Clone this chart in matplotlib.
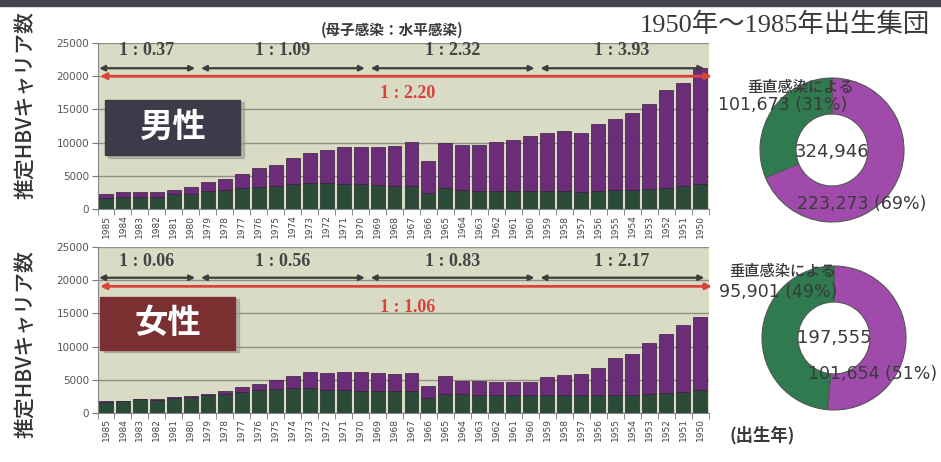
import matplotlib
matplotlib.use("Agg")
import matplotlib.pyplot as plt
from matplotlib.patches import Rectangle
import numpy as np

plt.rcParams['font.family'] = ['Noto Sans CJK JP', 'DejaVu Sans']

# 出生年 (1985 -> 1950)
years = [1985, 1984, 1983, 1982, 1981, 1980, 1979, 1978, 1977, 1976,
         1975, 1974, 1973, 1972, 1971, 1970, 1969, 1968, 1967, 1966,
         1965, 1964, 1963, 1962, 1961, 1960, 1959, 1958, 1957, 1956,
         1955, 1954, 1953, 1952, 1951, 1950]

# 男性: 母子感染(垂直) / 水平感染
male_vertical = [1600, 1800, 1800, 1800, 2200, 2300, 2700, 2900, 3100, 3300,
                 3500, 3700, 3900, 3900, 3700, 3700, 3600, 3500, 3400, 2400,
                 3200, 2800, 2700, 2700, 2700, 2700, 2700, 2700, 2600, 2700,
                 2900, 2900, 3000, 3200, 3400, 3700]
male_horizontal = [700, 700, 700, 700, 700, 1000, 1300, 1600, 2200, 2800,
                   3200, 4000, 4600, 5000, 5600, 5600, 5700, 6000, 6700, 4800,
                   6700, 6900, 7000, 7400, 7700, 8300, 8700, 9100, 8900, 10100,
                   10700, 11500, 12800, 14700, 15600, 17500]

# 女性
female_vertical = [1600, 1700, 2000, 1900, 2200, 2400, 2600, 2900, 3200, 3400,
                   3600, 3700, 3800, 3500, 3400, 3300, 3300, 3300, 3300, 2200,
                   2900, 2900, 2700, 2600, 2600, 2600, 2600, 2600, 2600, 2700,
                   2700, 2700, 2900, 3000, 3200, 3500]
female_horizontal = [100, 100, 100, 100, 100, 100, 300, 400, 700, 900,
                     1400, 1900, 2400, 2500, 2700, 2800, 2700, 2500, 2700, 1800,
                     2700, 1900, 2100, 2100, 2100, 2100, 2800, 3100, 3300, 4000,
                     5600, 6200, 7600, 8900, 10100, 11000]

# 期間区分 (index start, end) と比
groups = [(0, 5), (6, 15), (16, 25), (26, 35)]
male_ratios = ['1 : 0.37', '1 : 1.09', '1 : 2.32', '1 : 3.93']
female_ratios = ['1 : 0.06', '1 : 0.56', '1 : 0.83', '1 : 2.17']
male_total_ratio = '1 : 2.20'
female_total_ratio = '1 : 1.06'

# 円グラフ (水平, 垂直)
male_pie = [223273, 101673]
female_pie = [101654, 95901]
male_pie_labels = ['101,673 (31%)', '324,946', '223,273 (69%)']
female_pie_labels = ['95,901 (49%)', '197,555', '101,654 (51%)']

GREEN = '#2b4a3a'
PURPLE = '#6b2d78'
PIE_GREEN = '#2f7a4f'
PIE_PURPLE = '#a04aab'
BG = '#dadbc5'
TXT = '#3a3a3a'
RED = '#d8443c'

W, H = 941, 462
fig = plt.figure(figsize=(W / 100, H / 100), dpi=100)
fig.patches.append(Rectangle((0, 1 - 6 / H), 1, 6 / H, transform=fig.transFigure,
                             color='#44444f', zorder=0))


def draw_bars(ax, vert, horiz, ratios, total_ratio, arrow_y, label_y, red_y, red_label_y,
              box_text, box_color, box_ext):
    x = np.arange(len(years))
    ax.set_facecolor(BG)
    ax.bar(x, vert, width=0.82, color=GREEN, edgecolor='#1c2b24', linewidth=0.5, zorder=3)
    ax.bar(x, horiz, bottom=vert, width=0.82, color=PURPLE, edgecolor='#3a1a40',
           linewidth=0.5, zorder=3)
    ax.set_xlim(-0.5, len(years) - 0.5)
    ax.set_ylim(0, 25000)
    ax.set_yticks([0, 5000, 10000, 15000, 20000, 25000])
    ax.yaxis.grid(True, color='#8f8f86', linewidth=1, zorder=1)
    ax.set_axisbelow(True)
    ax.set_xticks(x)
    ax.set_xticklabels([str(y) for y in years], rotation=90, fontsize=6.5, color='#444444',
                       family='DejaVu Sans')
    ax.set_xticks(np.arange(-0.5, len(years), 1), minor=True)
    ax.tick_params(axis='x', which='major', length=0, pad=4)
    ax.tick_params(axis='x', which='minor', length=4, color='#777777')
    ax.tick_params(axis='y', length=4, color='#777777', labelsize=7.5, labelcolor='#555555',
                   pad=2)
    for lab in ax.get_yticklabels():
        lab.set_family('DejaVu Sans')
    for s in ['top', 'right']:
        ax.spines[s].set_visible(False)
    ax.spines['left'].set_color('#888888')
    ax.spines['bottom'].set_color('#888888')

    for (g0, g1), r in zip(groups, ratios):
        ax.annotate('', xy=(g1 + 0.25, arrow_y), xytext=(g0 - 0.4, arrow_y),
                    arrowprops=dict(arrowstyle='<|-|>', color='#3d3d3d', lw=1.6,
                                    mutation_scale=8, shrinkA=0, shrinkB=0), zorder=5)
        ax.text((g0 + g1) / 2 - 0.1, label_y, r, ha='center', va='center', fontsize=13,
                fontweight='bold', color='#444444', family='Liberation Serif', zorder=5)
    ax.annotate('', xy=(35.7, red_y), xytext=(-0.35, red_y), annotation_clip=False,
                arrowprops=dict(arrowstyle='<|-|>', color=RED, lw=2,
                                mutation_scale=9, shrinkA=0, shrinkB=0), zorder=5)
    ax.text(17.8, red_label_y, total_ratio, ha='center', va='center', fontsize=13,
            fontweight='bold', color=RED, family='Liberation Serif', zorder=5)

    x0, y0, x1, y1 = box_ext
    ax.add_patch(Rectangle((x0 + 0.006, y0 - 0.015), x1 - x0, y1 - y0,
                           transform=ax.transAxes, color='#9a9a90', alpha=0.6, zorder=5))
    ax.add_patch(Rectangle((x0, y0), x1 - x0, y1 - y0, transform=ax.transAxes,
                           color=box_color, zorder=6))
    ax.text((x0 + x1) / 2, (y0 + y1) / 2, box_text, transform=ax.transAxes, ha='center',
            va='center', fontsize=24, fontweight='bold', color='white', zorder=7)


ax_m = fig.add_axes([97.5 / W, 1 - 209 / H, 611 / W, 166 / H])
draw_bars(ax_m, male_vertical, male_horizontal, male_ratios, male_total_ratio,
          21200, 23900, 20000, 17400, '男性', '#3b3b4a', (0.012, 0.325, 0.233, 0.657))

ax_f = fig.add_axes([97.5 / W, 1 - 412.7 / H, 611 / W, 165.4 / H])
draw_bars(ax_f, female_vertical, female_horizontal, female_ratios, female_total_ratio,
          20400, 22900, 19100, 15900, '女性', '#7a2f30', (0.004, 0.379, 0.225, 0.70))

for yc in [105, 344]:
    fig.text(25 / W, 1 - yc / H, '推定HBVキャリア数', rotation=90, ha='center', va='center',
             fontsize=15, fontweight='medium', color='#333333')


def draw_donut(rect, vals, labels, pos):
    ax = fig.add_axes(rect)
    ax.pie(vals, colors=[PIE_PURPLE, PIE_GREEN], startangle=90, counterclock=False,
           radius=1.0, wedgeprops=dict(width=0.5, edgecolor='#555555', linewidth=0.8))
    ax.set_xlim(-1, 1)
    ax.set_ylim(-1, 1)
    ax.set_aspect('equal')
    ax.axis('off')
    hx, hy = pos[0]
    ax.text(hx, hy, '垂直感染による', ha='center', va='center', fontsize=11,
            fontweight='medium', color=TXT)
    sizes = [12.5, 13, 12.5]
    for (tx, ty), t, fs in zip(pos[1:], labels, sizes):
        ax.text(tx, ty, t, ha='center', va='center', fontsize=fs, color=TXT,
                family='DejaVu Sans')


draw_donut([760 / W, 240 / H, 144 / W, 144 / H], male_pie, male_pie_labels,
           [(-0.43, 0.875), (-0.69, 0.625), (0.0, -0.03), (0.41, -0.75)])
draw_donut([762 / W, 52 / H, 144 / W, 144 / H], female_pie, female_pie_labels,
           [(-0.72, 0.92), (-0.77, 0.64), (0.0, 0.0), (0.53, -0.5)])

fig.text(785 / W, 1 - 25 / H, '1950年〜1985年出生集団', ha='center', va='center',
         fontsize=19, color=TXT, family=['Liberation Serif', 'Noto Sans CJK JP'])
fig.text(392 / W, 1 - 30 / H, '(母子感染：水平感染)', ha='center', va='center',
         fontsize=10.5, fontweight='bold', color=TXT)
fig.text(762 / W, 1 - 435 / H, '(出生年)', ha='center', va='center', fontsize=12.5,
         fontweight='bold', color=TXT)

fig.savefig('out.png', dpi=100)
